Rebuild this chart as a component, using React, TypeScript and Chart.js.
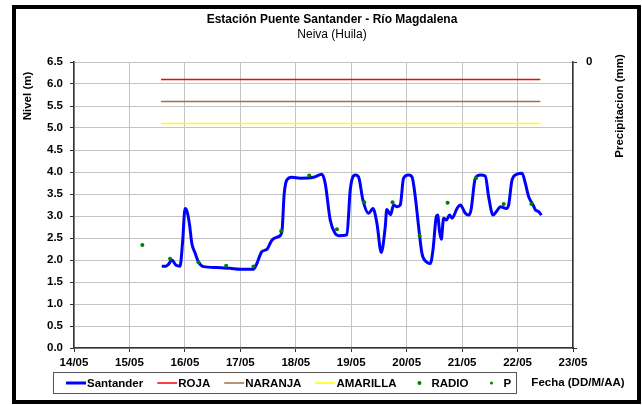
import React, { useEffect, useRef } from "react";
import { Chart, registerables } from "chart.js";

Chart.register(...registerables);

// Days since 14/05 00:00
const xTickLabels = ["14/05", "15/05", "16/05", "17/05", "18/05", "19/05", "20/05", "21/05", "22/05", "23/05"];
const yTickValues = [0, 0.5, 1, 1.5, 2, 2.5, 3, 3.5, 4, 4.5, 5, 5.5, 6, 6.5];

const santanderT = [
  1.583, 1.661, 1.702, 1.764, 1.841, 1.913, 1.958, 2.004, 2.04, 2.081, 2.125, 2.184, 2.244, 2.334,
  2.576, 2.816, 2.996, 3.236, 3.298, 3.388, 3.478, 3.569, 3.688, 3.749, 3.791, 3.839, 3.929, 4.079,
  4.32, 4.471, 4.531, 4.621, 4.711, 4.771, 4.922, 4.982, 5.072, 5.132, 5.211, 5.312, 5.392, 5.464,
  5.542, 5.614, 5.641, 5.709, 5.764, 5.825, 5.884, 5.944, 6.034, 6.096, 6.155, 6.215, 6.276, 6.354,
  6.426, 6.475, 6.534, 6.558, 6.594, 6.625, 6.666, 6.715, 6.774, 6.818, 6.908, 6.968, 7.058, 7.117,
  7.161, 7.238, 7.329, 7.419, 7.478, 7.558, 7.63, 7.69, 7.798, 7.839, 7.901, 7.991, 8.081, 8.141,
  8.2, 8.28, 8.321, 8.381, 8.43,
];
const santanderV = [
  1.86, 1.86, 1.9, 2.0, 1.88, 1.86, 2.4, 3.17, 3.1, 2.83, 2.38, 2.16, 1.96, 1.85,
  1.83, 1.81, 1.79, 1.79, 1.92, 2.19, 2.24, 2.45, 2.53, 2.64, 3.5, 3.82, 3.88, 3.86,
  3.88, 3.95, 3.74, 2.91, 2.6, 2.55, 2.57, 3.59, 3.93, 3.89, 3.36, 3.06, 3.17, 2.83,
  2.17, 2.76, 3.15, 3.03, 3.25, 3.21, 3.25, 3.86, 3.93, 3.89, 3.44, 2.76, 2.15, 1.96,
  1.92, 2.23, 2.98, 3.02, 2.64, 2.47, 2.95, 2.91, 3.02, 2.95, 3.17, 3.25, 3.06, 3.02,
  3.14, 3.86, 3.93, 3.91, 3.44, 3.02, 3.12, 3.21, 3.17, 3.25, 3.82, 3.95, 3.97, 3.74,
  3.44, 3.25, 3.14, 3.1, 3.02,
];

const radioT = [1.233, 1.733, 2.244, 2.744, 3.237, 3.736, 4.242, 4.742, 5.235, 5.745, 6.233, 6.738, 7.25, 7.75, 8.25];
const radioV = [2.34, 2.03, 1.95, 1.87, 1.85, 2.66, 3.92, 2.7, 3.31, 3.31, 2.55, 3.3, 3.86, 3.27, 3.27];

const thresholdT = [1.57, 8.41];
const rojaLevel = 6.1;
const naranjaLevel = 5.6;
const amarillaLevel = 5.1;

const pT: number[] = [];
const pV: number[] = [];

const FONT = "'Liberation Sans', Arial, sans-serif";

const legendItems = [
  { label: "Santander", kind: "line", color: "#0000ff", width: 3 },
  { label: "ROJA", kind: "line", color: "#ff0000", width: 1.5 },
  { label: "NARANJA", kind: "line", color: "#a0704a", width: 1.5 },
  { label: "AMARILLA", kind: "line", color: "#ffff00", width: 1.5 },
  { label: "RADIO", kind: "dot", color: "#008000", width: 2 },
  { label: "P", kind: "dot", color: "#008000", width: 1.5 },
];

const decorPlugin = {
  id: "decor",
  beforeDraw(chart: any) {
    const ctx = chart.ctx;
    ctx.save();
    ctx.fillStyle = "#ffffff";
    ctx.fillRect(0, 0, chart.width, chart.height);
    ctx.restore();
  },
  afterDraw(chart: any) {
    const ctx = chart.ctx;
    ctx.save();
    // frame
    ctx.strokeStyle = "#000000";
    ctx.lineWidth = 4;
    ctx.strokeRect(14, 7, 625, 395);
    // titles
    ctx.fillStyle = "#000000";
    ctx.textAlign = "center";
    ctx.textBaseline = "middle";
    ctx.font = `bold 12px ${FONT}`;
    ctx.fillText("Estación Puente Santander - Río Magdalena", 332, 20);
    ctx.font = `12px ${FONT}`;
    ctx.fillText("Neiva (Huila)", 332, 35);
    // axis titles
    ctx.font = `bold 11.5px ${FONT}`;
    ctx.save();
    ctx.translate(28, 96);
    ctx.rotate(-Math.PI / 2);
    ctx.fillText("Nivel (m)", 0, 0);
    ctx.restore();
    ctx.save();
    ctx.translate(620, 106);
    ctx.rotate(-Math.PI / 2);
    ctx.fillText("Precipitacion (mm)", 0, 0);
    ctx.restore();
    ctx.fillText("Fecha (DD/M/AA)", 578, 383);
    // legend box
    ctx.strokeStyle = "#555555";
    ctx.lineWidth = 1;
    ctx.strokeRect(53.5, 372.5, 463, 21);
    let x = 66;
    const y = 383;
    ctx.textAlign = "left";
    for (const it of legendItems) {
      if (it.kind === "line") {
        ctx.strokeStyle = it.color;
        ctx.lineWidth = it.width;
        ctx.beginPath();
        ctx.moveTo(x, y);
        ctx.lineTo(x + 20, y);
        ctx.stroke();
      } else {
        ctx.fillStyle = it.color;
        ctx.beginPath();
        ctx.arc(x + 9, y, it.width, 0, Math.PI * 2);
        ctx.fill();
      }
      ctx.fillStyle = "#000000";
      ctx.fillText(it.label, x + 21, y + 0.5);
      x += 21 + ctx.measureText(it.label).width + 14;
    }
    ctx.restore();
  },
};

export default function App() {
  const ref = useRef<HTMLCanvasElement | null>(null);
  useEffect(() => {
    if (!ref.current) return;
    const darkAxis = "#333333";
    const grid = "#c4c4c4";
    const tickFont = { family: FONT, size: 11.5, weight: "bold" };
    const chart = new Chart(ref.current, {
      type: "line",
      data: {
        datasets: [
          {
            label: "Santander",
            data: santanderT.map((t, i) => ({ x: t, y: santanderV[i] })),
            borderColor: "#0000ff",
            borderWidth: 3,
            pointRadius: 0,
            cubicInterpolationMode: "monotone",
            yAxisID: "y",
            order: 2,
          },
          {
            label: "ROJA",
            data: thresholdT.map((t) => ({ x: t, y: rojaLevel })),
            borderColor: "#ff0000",
            borderWidth: 1.5,
            pointRadius: 0,
            yAxisID: "y",
            order: 1,
          },
          {
            label: "NARANJA",
            data: thresholdT.map((t) => ({ x: t, y: naranjaLevel })),
            borderColor: "#a0704a",
            borderWidth: 1.5,
            pointRadius: 0,
            yAxisID: "y",
            order: 1,
          },
          {
            label: "AMARILLA",
            data: thresholdT.map((t) => ({ x: t, y: amarillaLevel })),
            borderColor: "#ffff00",
            borderWidth: 1.5,
            pointRadius: 0,
            yAxisID: "y",
            order: 1,
          },
          {
            label: "RADIO",
            data: radioT.map((t, i) => ({ x: t, y: radioV[i] })),
            showLine: false,
            pointRadius: 2,
            pointBorderWidth: 0,
            pointBackgroundColor: "#008000",
            borderColor: "#008000",
            yAxisID: "y",
            order: 0,
          },
          {
            label: "P",
            data: pT.map((t, i) => ({ x: t, y: pV[i] })),
            showLine: false,
            pointRadius: 1.5,
            pointBackgroundColor: "#008000",
            borderColor: "#008000",
            yAxisID: "y2",
            order: 0,
          },
        ],
      },
      options: {
        animation: false,
        responsive: false,
        maintainAspectRatio: false,
        layout: { padding: { top: 62, left: 0, right: 0, bottom: 0 } },
        plugins: { legend: { display: false }, title: { display: false }, tooltip: { enabled: false } },
        scales: {
          x: {
            type: "linear",
            min: 0,
            max: xTickLabels.length - 1,
            afterBuildTicks: (s: any) => {
              s.ticks = xTickLabels.map((_, i) => ({ value: i }));
            },
            ticks: {
              callback: (v: any) => xTickLabels[Math.round(v)] ?? "",
              font: tickFont,
              color: "#000000",
              padding: 4,
              maxRotation: 0,
              autoSkip: false,
            },
            grid: { color: grid, tickColor: darkAxis, tickLength: 4, lineWidth: 1 },
            border: { color: darkAxis, width: 1.5 },
            afterFit: (s: any) => {
              s.height = 57;
            },
          },
          y: {
            position: "left",
            min: 0,
            max: 6.5,
            afterBuildTicks: (s: any) => {
              s.ticks = yTickValues.map((v) => ({ value: v }));
            },
            ticks: {
              callback: (v: any) => Number(v).toFixed(1),
              font: tickFont,
              color: "#000000",
              padding: 7,
            },
            grid: { color: grid, tickColor: darkAxis, tickLength: 4, lineWidth: 1 },
            border: { color: darkAxis, width: 1.5 },
            afterFit: (s: any) => {
              s.width = 74;
            },
          },
          y2: {
            position: "right",
            reverse: true,
            min: 0,
            max: 1,
            afterBuildTicks: (s: any) => {
              s.ticks = [{ value: 0 }, { value: 1 }];
            },
            ticks: {
              callback: (v: any) => (v === 0 ? "0" : ""),
              font: tickFont,
              color: "#000000",
              padding: 9,
            },
            grid: { drawOnChartArea: false, tickColor: darkAxis, tickLength: 4 },
            border: { color: darkAxis, width: 1.5 },
            afterFit: (s: any) => {
              s.width = 69;
            },
          },
        },
      },
      plugins: [decorPlugin],
    } as any);
    return () => chart.destroy();
  }, []);
  return (
    <div style={{ position: "fixed", left: 0, top: 0, width: 642, height: 405, background: "#fff" }}>
      <canvas ref={ref} width={642} height={405} style={{ width: 642, height: 405, display: "block" }} />
    </div>
  );
}
